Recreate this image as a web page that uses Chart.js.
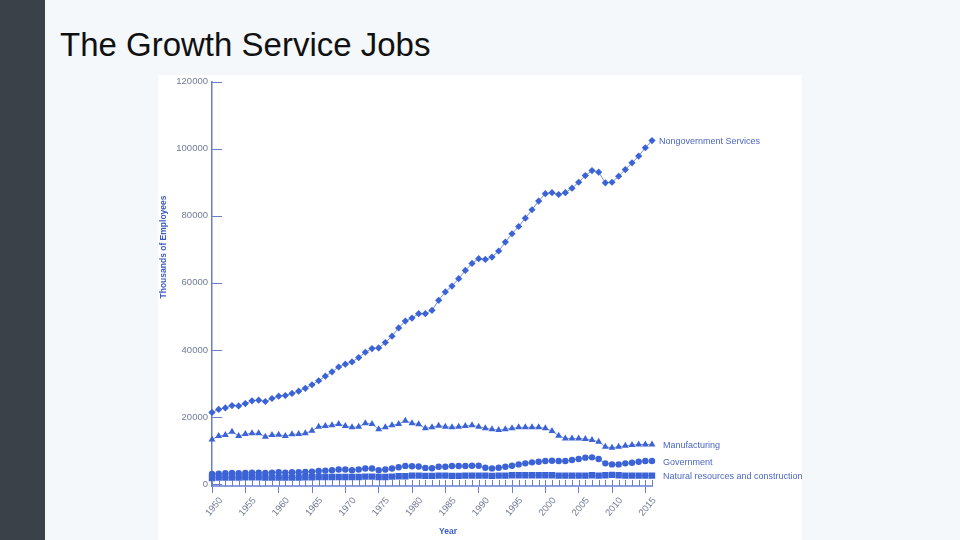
<!DOCTYPE html>
<html>
<head>
<meta charset="utf-8">
<script src="https://cdn.jsdelivr.net/npm/chart.js@4.4.1/dist/chart.umd.min.js"></script>
<style>
  html, body { margin: 0; padding: 0; }
  body { width: 960px; height: 540px; background: #f4f8fb; position: relative; overflow: hidden; font-family: "Liberation Sans", Arial, sans-serif; }
  #bar { position: absolute; left: 0; top: 0; width: 45px; height: 540px; background: #3a4149; }
  h1 { position: absolute; left: 60px; top: 28px; margin: 0; font-weight: normal; font-size: 33px; line-height: 33px; color: #111; }
  #box { position: absolute; left: 158px; top: 75px; width: 644px; height: 465px; background: #fff; }
  canvas { display: block; position: absolute; left: 0; top: -3px; }
</style>
</head>
<body>
<div id="bar"></div>
<h1>The Growth Service Jobs</h1>
<div id="box"><canvas id="jobs" width="644" height="468"></canvas></div>
<script>
// thousands of employees, 1950-2016
const years = [
  1950,1951,1952,1953,1954,1955,1956,1957,1958,1959,
  1960,1961,1962,1963,1964,1965,1966,1967,1968,1969,
  1970,1971,1972,1973,1974,1975,1976,1977,1978,1979,
  1980,1981,1982,1983,1984,1985,1986,1987,1988,1989,
  1990,1991,1992,1993,1994,1995,1996,1997,1998,1999,
  2000,2001,2002,2003,2004,2005,2006,2007,2008,2009,
  2010,2011,2012,2013,2014,2015,2016
];
const nongov = [
  21350,22250,22700,23400,23300,24000,24800,25000,24600,25500,
  26200,26400,27000,27700,28550,29600,30800,32150,33450,34900,
  35750,36400,37700,39300,40400,40600,42200,44100,46550,48600,
  49500,50800,50800,51800,54800,57300,59050,61250,63700,65800,
  67200,67000,67700,69500,72150,74650,76800,79300,81800,84400,
  86600,86900,86350,86900,88250,90000,92000,93500,93000,89850,
  90000,91800,93800,95800,97800,100300,102450
];
const manufacturing = [
  13300,14300,14600,15600,14300,14900,15100,15100,14100,14600,
  14700,14300,14800,14900,15100,15900,17100,17300,17500,17900,
  17300,16900,17100,18100,17900,16300,16900,17500,17900,18850,
  18100,17800,16600,16900,17400,17100,16900,17100,17300,17500,
  17100,16600,16300,16100,16300,16600,16900,16900,16900,16900,
  16600,15800,14400,13600,13600,13600,13400,13100,12600,11100,
  10800,11100,11400,11600,11800,11800,11800
];
const government = [
  3000,3100,3200,3300,3200,3300,3400,3400,3300,3400,
  3500,3400,3500,3500,3600,3700,3900,4000,4100,4300,
  4300,4100,4300,4600,4600,4100,4300,4600,5000,5400,
  5300,5200,4800,4700,5150,5150,5350,5350,5350,5450,
  5450,4850,4650,4850,5150,5450,5850,6150,6450,6650,
  6850,6950,6850,6850,7150,7450,7850,7950,7450,6150,
  5850,5850,6150,6350,6650,6850,6850
];
const natural = [
  1800,1900,1900,1900,1900,2000,2000,2000,1900,1900,
  1900,1900,1900,1900,2000,2000,2100,2100,2100,2100,
  2100,2100,2100,2200,2200,2100,2100,2200,2300,2300,
  2500,2500,2400,2400,2500,2500,2400,2400,2500,2500,
  2500,2500,2400,2500,2500,2600,2600,2600,2600,2600,
  2600,2600,2500,2500,2500,2500,2500,2600,2500,2600,
  2700,2600,2500,2500,2500,2500,2500
];
const yTicks = [0, 20000, 40000, 60000, 80000, 100000, 120000];

const BLUE = '#3b63d6';
const AXIS = '#6b7fc6';
const TICKTXT = '#717b96';
const FONT = '"Liberation Sans", Arial, sans-serif';

function series(label, values, style, radius) {
  return {
    label, data: values,
    borderColor: 'rgba(59,99,214,0.7)', borderWidth: 1,
    backgroundColor: BLUE, pointBackgroundColor: BLUE, pointBorderColor: BLUE,
    pointStyle: style, pointRadius: radius, pointBorderWidth: 0,
    tension: 0, fill: false
  };
}

const decor = {
  id: 'decor',
  afterDraw(chart) {
    const { ctx, chartArea, scales } = chart;
    ctx.save();
    ctx.strokeStyle = AXIS;
    ctx.lineWidth = 1;
    // inward y ticks
    scales.y.ticks.forEach(t => {
      const y = Math.round(scales.y.getPixelForValue(t.value)) + 0.5;
      ctx.beginPath(); ctx.moveTo(chartArea.left, y); ctx.lineTo(chartArea.left + 10, y); ctx.stroke();
    });
    // yearly stems above the x axis
    years.forEach((yr, i) => {
      const x = Math.round(scales.x.getPixelForValue(i)) + 0.5;
      ctx.beginPath(); ctx.moveTo(x, chartArea.bottom); ctx.lineTo(x, chartArea.bottom - 6); ctx.stroke();
    });
    // end labels
    ctx.fillStyle = '#4b66c2';
    ctx.font = '9px ' + FONT;
    ctx.textBaseline = 'middle';
    const offs = [7, 11, 11, 11];
    chart.data.datasets.forEach((ds, i) => {
      const pts = chart.getDatasetMeta(i).data;
      const p = pts[pts.length - 1];
      ctx.fillText(ds.label, p.x + offs[i], p.y + 1);
    });
    // axis titles
    ctx.fillStyle = '#3d5cc0';
    ctx.font = 'bold 8.5px ' + FONT;
    ctx.textAlign = 'center';
    ctx.fillText('Year', 290, 460);
    ctx.translate(6, 175);
    ctx.rotate(-Math.PI / 2);
    ctx.fillText('Thousands of Employees', 0, 0);
    ctx.restore();
  }
};

new Chart(document.getElementById('jobs'), {
  type: 'line',
  data: {
    labels: years,
    datasets: [
      series('Nongovernment Services', nongov, 'rectRot', 3.6),
      series('Manufacturing', manufacturing, 'triangle', 4),
      series('Government', government, 'circle', 3.2),
      series('Natural resources and construction', natural, 'rect', 4.5)
    ]
  },
  options: {
    responsive: false,
    devicePixelRatio: 1,
    animation: false,
    layout: { padding: { left: 0, right: 150, top: 0, bottom: 0 } },
    plugins: { legend: { display: false }, tooltip: { enabled: false } },
    scales: {
      x: {
        type: 'category',
        offset: false,
        afterFit(s) { s.height = 54; },
        border: { color: '#8c9ee0', width: 2 },
        grid: {
          drawOnChartArea: false, drawTicks: true, tickLength: 7,
          color: c => (years[c.index] % 5 === 0 ? AXIS : 'rgba(0,0,0,0)')
        },
        ticks: {
          autoSkip: false, minRotation: 50, maxRotation: 50, labelOffset: 9, padding: 2,
          color: TICKTXT, font: { family: FONT, size: 9.5 },
          callback(v, i) { return years[i] % 5 === 0 ? String(years[i]) : ''; }
        }
      },
      y: {
        min: -600, max: 120000,
        afterFit(s) { s.width = 54; },
        afterBuildTicks(s) { s.ticks = yTicks.map(v => ({ value: v })); },
        border: { color: AXIS, width: 1.5 },
        grid: { drawOnChartArea: false, drawTicks: false },
        ticks: {
          padding: 4, color: TICKTXT, font: { family: FONT, size: 9.5 },
          callback: v => String(v)
        }
      }
    }
  },
  plugins: [decor]
});
</script>
</body>
</html>
